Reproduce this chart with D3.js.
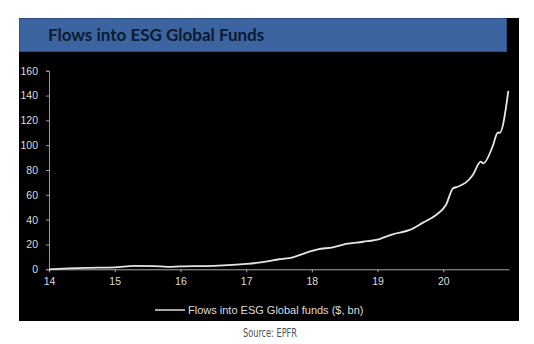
<!DOCTYPE html>
<html>
<head>
<meta charset="utf-8">
<script src="https://cdn.jsdelivr.net/npm/d3@7"></script>
<style>
  html, body { margin: 0; padding: 0; background: #ffffff; }
  svg { display: block; }
</style>
</head>
<body>
<svg id="chart" width="534" height="344"></svg>
<script>
// ---- data ----
const title = "Flows into ESG Global Funds";
const seriesName = "Flows into ESG Global funds ($, bn)";
const source = "Source: EPFR";
const years = [14.0, 14.3, 14.6, 15.0, 15.3, 15.6, 15.8, 16.0, 16.5, 17.0, 17.3, 17.5, 17.71, 17.94, 18.09, 18.32, 18.52, 18.78, 19.03, 19.23, 19.49, 19.69, 19.89, 20.04, 20.15, 20.22, 20.34, 20.45, 20.57, 20.61, 20.75, 20.83, 20.86, 20.99];
const flows = [0.0, 0.7, 1.2, 1.6, 2.8, 2.6, 2.0, 2.3, 2.8, 4.3, 6.1, 8.1, 9.7, 13.9, 16.1, 17.7, 20.4, 22.2, 24.4, 28.2, 31.7, 37.6, 43.8, 51.8, 65.3, 66.5, 69.8, 76.0, 86.7, 85.4, 98.8, 110.0, 110.0, 143.7];
const yTicks = [0, 20, 40, 60, 80, 100, 120, 140, 160];
const xTicks = [14, 15, 16, 17, 18, 19, 20];

const svg = d3.select("#chart");

// black panel
svg.append("rect").attr("x", 19).attr("y", 18).attr("width", 500).attr("height", 303).attr("fill", "#000000");
// blue title bar
svg.append("rect").attr("x", 19.5).attr("y", 18.5).attr("width", 487).attr("height", 33)
  .attr("fill", "#3b64a0").attr("stroke", "#2c4f82").attr("stroke-width", 1);
svg.append("text").attr("x", 48).attr("y", 40.5)
  .attr("font-family", "Lato, 'Open Sans', sans-serif").attr("font-weight", "bold")
  .attr("font-size", 17).attr("fill", "#0c1a30").text(title);

const x = d3.scaleLinear().domain([14, 21]).range([49, 509]);
const y = d3.scaleLinear().domain([0, 160]).range([269.3, 70.7]);

// y axis
const yAxis = svg.append("g").attr("transform", "translate(49,0)")
  .call(d3.axisLeft(y).tickValues(yTicks).tickSize(3).tickPadding(8).tickFormat(d3.format("d")));
yAxis.select(".domain").attr("stroke", "#9a9a9a");
yAxis.selectAll(".tick line").attr("stroke", "#9a9a9a");
yAxis.selectAll("text").attr("fill", "#dddddd").attr("font-size", 10.5)
  .attr("font-family", "'Liberation Sans', Arial, sans-serif");

// x axis
const xAxis = svg.append("g").attr("transform", "translate(0,269.3)")
  .call(d3.axisBottom(x).tickValues(xTicks).tickSize(3).tickSizeOuter(0).tickPadding(5).tickFormat(d3.format("d")));
xAxis.select(".domain").attr("stroke", "#a8a8a8");
xAxis.selectAll(".tick line").attr("stroke", "#a8a8a8");
xAxis.selectAll("text").attr("fill", "#dddddd").attr("font-size", 10.5)
  .attr("font-family", "'Liberation Sans', Arial, sans-serif");

// series line
const pts = years.map((v, i) => [v, flows[i]]);
svg.append("path").datum(pts)
  .attr("fill", "none").attr("stroke", "#e6e6e6").attr("stroke-width", 1.8)
  .attr("stroke-linejoin", "round")
  .attr("d", d3.line().x(d => x(d[0])).y(d => y(d[1])).curve(d3.curveMonotoneX));

// legend
svg.append("line").attr("x1", 155).attr("x2", 185).attr("y1", 310).attr("y2", 310)
  .attr("stroke", "#dddddd").attr("stroke-width", 1.5);
svg.append("text").attr("x", 188).attr("y", 314)
  .attr("font-family", "'Liberation Sans', Arial, sans-serif").attr("font-size", 11)
  .attr("fill", "#dddddd").text(seriesName);

// source
svg.append("text").attr("x", 243).attr("y", 336.5)
  .attr("font-family", "'Liberation Sans Narrow', 'DejaVu Sans Condensed', 'Roboto', sans-serif")
  .attr("font-size", 12.5).attr("font-weight", 500).attr("fill", "#505050")
  .attr("textLength", 54).attr("lengthAdjust", "spacingAndGlyphs")
  .text(source);
</script>
</body>
</html>
